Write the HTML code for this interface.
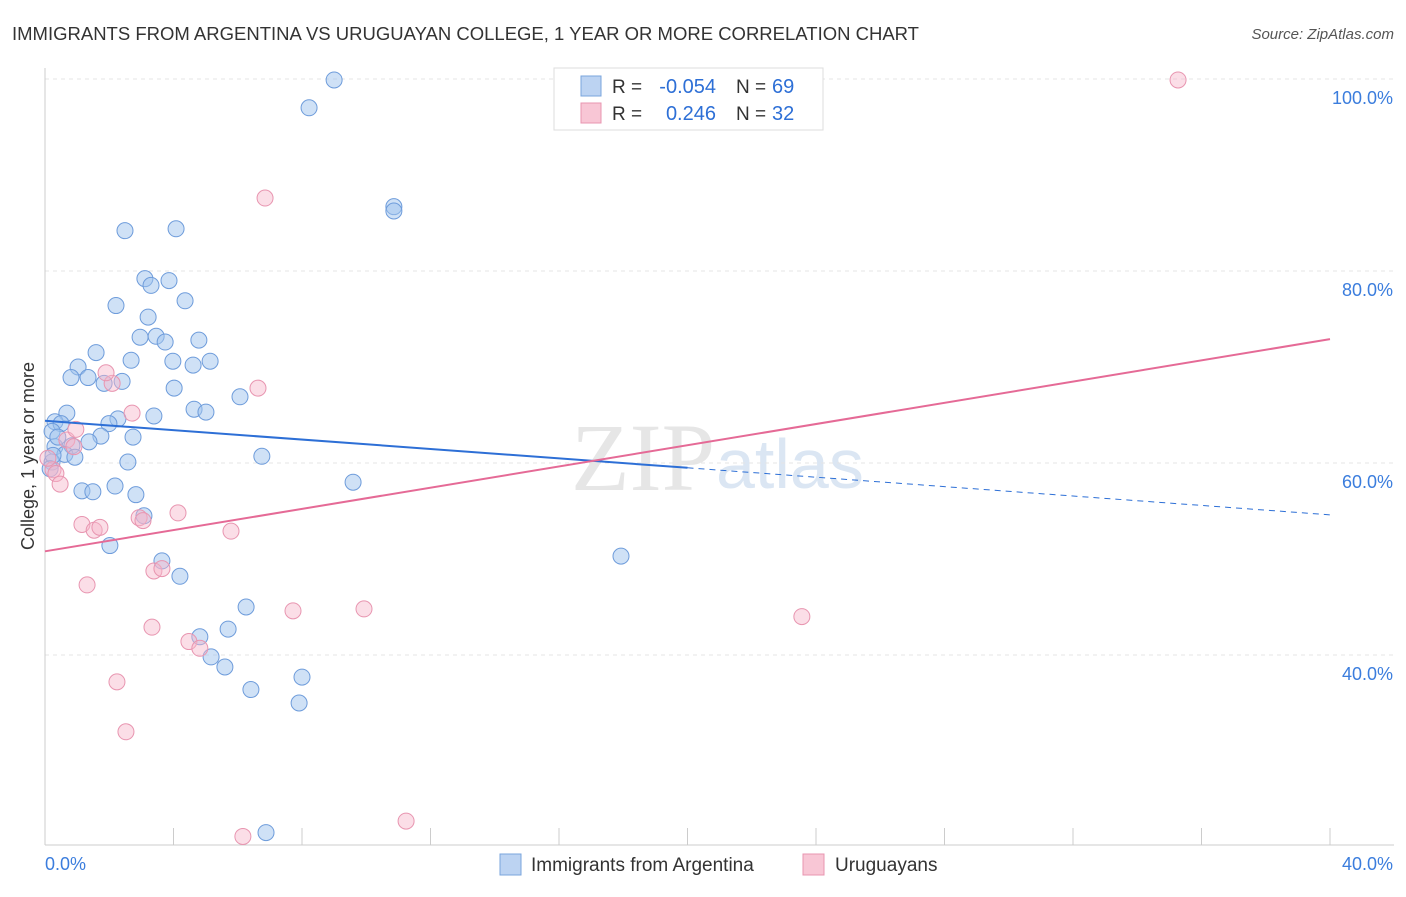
<!DOCTYPE html>
<html><head><meta charset="utf-8"><style>
body{margin:0;background:#fff;font-family:"Liberation Sans",sans-serif;}
</style></head><body>
<svg width="1406" height="892" xmlns="http://www.w3.org/2000/svg" id="chart">
<text x="12" y="40" font-size="18.5" fill="#333">IMMIGRANTS FROM ARGENTINA VS URUGUAYAN COLLEGE, 1 YEAR OR MORE CORRELATION CHART</text>
<text x="1394" y="39" font-size="15" fill="#555" font-style="italic" text-anchor="end">Source: ZipAtlas.com</text>
<text x="715" y="490" font-size="96" fill="#e6e6e6" text-anchor="end" font-family="Liberation Serif">ZIP</text>
<text x="716" y="488" font-size="70" fill="#dbe6f3">atlas</text>
<g id="grid"></g><g id="marks"></g>
<text x="34" y="456" font-size="18" fill="#333" text-anchor="middle" transform="rotate(-90 34 456)">College, 1 year or more</text>
<g>
<rect x="554" y="68" width="269" height="62" fill="#fff" stroke="#ddd"/>
<rect x="581" y="76" width="20" height="20" fill="#bcd3f2" stroke="#7aa5dc"/>
<rect x="581" y="103" width="20" height="20" fill="#f8c6d5" stroke="#e895b0"/>
<text x="612" y="93" font-size="19" fill="#333">R =</text>
<text x="716" y="93" font-size="20" fill="#2d6fd6" text-anchor="end">-0.054</text>
<text x="736" y="93" font-size="19" fill="#333">N =</text>
<text x="772" y="93" font-size="20" fill="#2d6fd6">69</text>
<text x="612" y="120" font-size="19" fill="#333">R =</text>
<text x="716" y="120" font-size="20" fill="#2d6fd6" text-anchor="end">0.246</text>
<text x="736" y="120" font-size="19" fill="#333">N =</text>
<text x="772" y="120" font-size="20" fill="#2d6fd6">32</text>
</g>
<g>
<rect x="500" y="854" width="21" height="21" fill="#bcd3f2" stroke="#7aa5dc"/>
<text x="531" y="871" font-size="19" fill="#333">Immigrants from Argentina</text>
<rect x="803" y="854" width="21" height="21" fill="#f8c6d5" stroke="#e895b0"/>
<text x="835" y="871" font-size="19" fill="#333">Uruguayans</text>
</g>
</svg>
<script>
const yTicks=[40,60,80,100];
const yTickLabels=["40.0%","60.0%","80.0%","100.0%"];
const xTicks=[0,4,8,12,16,20,24,28,32,36,40];
const blueX=[9.00,8.22,10.86,10.86,2.49,4.08,3.11,3.86,3.30,2.21,4.36,3.21,2.96,3.46,3.74,4.79,1.59,2.68,3.98,4.61,5.14,1.03,0.81,1.34,1.84,2.40,4.02,6.07,4.64,5.01,0.68,3.39,0.31,0.50,2.27,1.99,0.22,1.74,2.74,1.37,0.84,0.31,0.62,0.93,0.22,2.58,6.75,9.59,2.18,1.15,1.49,2.83,3.08,2.02,3.64,4.20,17.93,6.26,5.70,4.82,5.17,5.60,6.41,8.00,7.91,6.88,0.40,0.25,0.16];
const blueY=[99.9,97.0,86.7,86.25,84.2,84.4,79.2,79.0,78.5,76.4,76.9,75.2,73.1,73.2,72.6,72.8,71.5,70.7,70.6,70.2,70.6,70.0,68.9,68.9,68.3,68.5,67.8,66.9,65.6,65.3,65.2,64.9,64.3,64.1,64.6,64.1,63.3,62.8,62.7,62.2,61.8,61.7,60.9,60.6,60.1,60.1,60.7,58.0,57.6,57.1,57.0,56.7,54.5,51.4,49.8,48.2,50.3,45.0,42.7,41.9,39.8,38.75,36.4,37.7,35.0,21.5,62.7,60.8,59.4];
const pinkX=[35.27,6.85,6.63,2.09,1.90,2.71,0.68,0.90,0.96,0.25,0.34,0.47,0.09,1.15,1.53,1.71,2.93,3.05,4.14,5.79,1.31,3.39,3.64,3.33,7.72,9.93,23.56,4.48,4.82,2.24,2.52,6.16,11.24];
const pinkY=[99.9,87.6,67.8,68.3,69.4,65.2,62.4,61.7,63.5,59.3,58.9,57.8,60.5,53.6,53.0,53.3,54.3,54.0,54.8,52.9,47.3,48.75,49.0,42.9,44.6,44.8,44.0,41.4,40.7,37.2,32.0,21.1,22.7];
const blueTrend=[64.4,54.6]; const blueSolidEnd=20;
const pinkTrend=[50.8,72.9];
const NS="http://www.w3.org/2000/svg";
const X=v=>45+v*32.125, Y=v=>79+(100-v)*9.6;
function mk(t,a,p){const e=document.createElementNS(NS,t);for(const k in a)e.setAttribute(k,a[k]);p.appendChild(e);return e;}
const grid=document.getElementById('grid'),marks=document.getElementById('marks');
yTicks.forEach((v,i)=>{
 const l=mk('line',{x1:45,x2:1394,y1:Y(v),y2:Y(v),stroke:'#e4e4e4','stroke-dasharray':'4,4'},grid);
 
 
 const t=mk('text',{x:1393,y:Y(v)+25,'font-size':18,fill:'#3b7ddd','text-anchor':'end'},grid);
 t.textContent=yTickLabels[i];
 
 
});
const ax=mk('line',{x1:45,x2:45,y1:68,y2:845,stroke:'#ccc'},grid);


const bx=mk('line',{x1:45,x2:1394,y1:845,y2:845,stroke:'#ccc'},grid);


xTicks.forEach(v=>{const l=mk('line',{x1:X(v),x2:X(v),y1:828,y2:845,stroke:'#ccc'},grid);
 
 });
[[0,'0.0%','start',45],[40,'40.0%','end',1393]].forEach(a=>{const t=mk('text',{x:a[3],y:870,'font-size':18,fill:'#3b7ddd','text-anchor':a[2]},grid);t.textContent=a[1];
 
 });
blueX.forEach((x,i)=>{const c=mk('circle',{cx:X(x),cy:Y(blueY[i]),r:8,fill:'rgba(160,195,238,0.5)',stroke:'#6e9cdb','stroke-width':1},marks);
 
 });
pinkX.forEach((x,i)=>{const c=mk('circle',{cx:X(x),cy:Y(pinkY[i]),r:8,fill:'rgba(246,182,202,0.45)',stroke:'#e895b0','stroke-width':1},marks);
 
 });
const bAt=x=>blueTrend[0]+(blueTrend[1]-blueTrend[0])*x/40;
const b1=mk('line',{x1:X(0),y1:Y(bAt(0)),x2:X(blueSolidEnd),y2:Y(bAt(blueSolidEnd)),stroke:'#2d6fd6','stroke-width':2},marks);


const b2=mk('line',{x1:X(blueSolidEnd),y1:Y(bAt(blueSolidEnd)),x2:X(40),y2:Y(bAt(40)),stroke:'#2d6fd6','stroke-width':1,'stroke-dasharray':'6,5'},marks);


const p1=mk('line',{x1:X(0),y1:Y(pinkTrend[0]),x2:X(40),y2:Y(pinkTrend[1]),stroke:'#e56a96','stroke-width':2},marks);


</script>
</body></html>
